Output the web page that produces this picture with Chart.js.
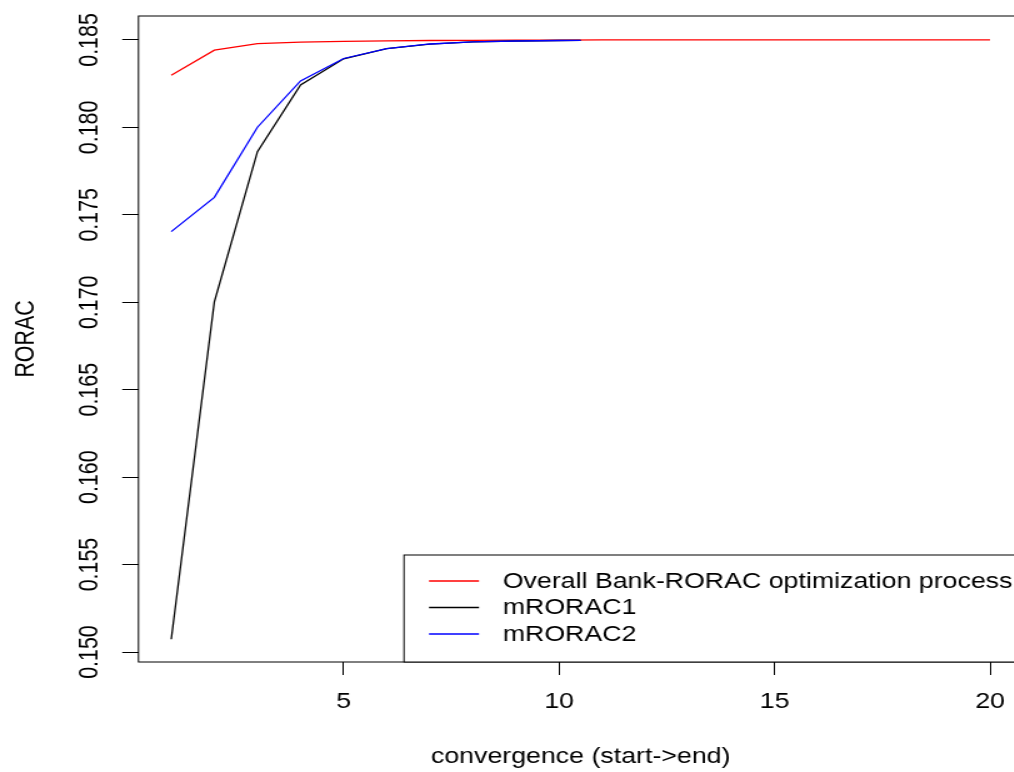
<!DOCTYPE html>
<html>
<head>
<meta charset="utf-8">
<script src="https://cdn.jsdelivr.net/npm/chart.js@4.4.0/dist/chart.umd.min.js"></script>
<style>
    html, body { margin: 0; padding: 0; overflow: hidden; background: #fff; width: 1014px; height: 772px; }
    /* the original R picture is stretched sideways, so the canvas is too */
    #wrap { position: absolute; left: 0; top: 0; width: 832px; height: 772px; transform: scaleX(1.25); transform-origin: 0 0; }
</style>
</head>
<body>
<div id="wrap"><canvas id="RoracChart"></canvas></div>
<script>
const steps = [1, 2, 3, 4, 5, 6, 7, 8, 9, 10, 11, 12, 13, 14, 15, 16, 17, 18, 19, 20];
const mSteps = [1, 2, 3, 4, 5, 6, 7, 8, 9, 10, 10.5];

const overallRorac = [0.18298, 0.18442, 0.18479, 0.18488, 0.18492, 0.18495, 0.18497, 0.18498, 0.18499, 0.18499,
    0.18500, 0.18500, 0.18500, 0.18500, 0.18500, 0.18500, 0.18500, 0.18500, 0.18500, 0.18500];
const mRorac1 = [0.15073, 0.17003, 0.17861, 0.18243, 0.18392, 0.18450, 0.18476, 0.18489, 0.18494, 0.18497, 0.18498];
const mRorac2 = [0.17404, 0.17600, 0.18001, 0.18266, 0.18394, 0.18451, 0.18477, 0.18489, 0.18494, 0.18497, 0.18498];

const seriesNames = ["Overall Bank-RORAC optimization process", "mRORAC1", "mRORAC2"];
const seriesColors = ["#ff0000", "#000000", "#0000ff"];

const fontFamily = '"Liberation Sans", Arial, sans-serif';
const txtFont = { family: fontFamily, size: 21.4 };

const toPoints = (xs, ys) => xs.map((x, i) => ({ x: x, y: ys[i] }));

// frame, rotated y labels and the boxed legend, R style
const rPlotDecor = {
    id: 'rPlotDecor',
    afterDraw(chart) {
        const { ctx, chartArea: a, scales: { y } } = chart;
        ctx.save();
        ctx.strokeStyle = '#000';
        ctx.lineWidth = 1;
        ctx.strokeRect(a.left, a.top, a.right - a.left, a.bottom - a.top);

        ctx.fillStyle = '#000';
        ctx.font = txtFont.size + 'px ' + fontFamily;
        ctx.textAlign = 'center';
        ctx.textBaseline = 'middle';
        y.ticks.forEach(t => {
            ctx.save();
            ctx.translate(72, y.getPixelForValue(t.value));
            ctx.rotate(-Math.PI / 2);
            ctx.fillText(t.value.toFixed(3), 0, 0);
            ctx.restore();
        });

        // legend
        const boxLeft = 323.2;
        const boxTop = 555;
        ctx.fillStyle = '#fff';
        ctx.fillRect(boxLeft, boxTop, a.right - boxLeft, a.bottom - boxTop);
        ctx.strokeRect(boxLeft, boxTop, a.right - boxLeft, a.bottom - boxTop);
        ctx.textAlign = 'left';
        chart.data.datasets.forEach((ds, i) => {
            const rowY = boxTop + 26 + i * 26.5;
            ctx.strokeStyle = ds.borderColor;
            ctx.lineWidth = 1.3;
            ctx.beginPath();
            ctx.moveTo(343.2, rowY);
            ctx.lineTo(383.2, rowY);
            ctx.stroke();
            ctx.fillStyle = '#000';
            ctx.fillText(ds.label, 402.2, rowY + 1);
        });
        ctx.restore();
    }
};

const ctx = document.getElementById("RoracChart").getContext("2d");

const roracChart = new Chart(ctx, {
    type: 'line',
    data: {
        datasets: [
            {
                label: seriesNames[0],
                data: toPoints(steps, overallRorac),
                borderColor: seriesColors[0],
                borderWidth: 1.3,
                pointRadius: 0,
                tension: 0,
                order: 3
            },
            {
                label: seriesNames[1],
                data: toPoints(mSteps, mRorac1),
                borderColor: seriesColors[1],
                borderWidth: 1.3,
                pointRadius: 0,
                tension: 0,
                order: 2
            },
            {
                label: seriesNames[2],
                data: toPoints(mSteps, mRorac2),
                borderColor: seriesColors[2],
                borderWidth: 1.3,
                pointRadius: 0,
                tension: 0,
                order: 1
            }
        ]
    },
    options: {
        responsive: true,
        maintainAspectRatio: false,
        animation: false,
        layout: { padding: { left: 0, top: 16, right: 13.76, bottom: 0 } },
        plugins: {
            legend: { display: false },
            tooltip: { enabled: false }
        },
        scales: {
            x: {
                type: 'linear',
                min: 0.24,
                max: 20.76,
                ticks: { stepSize: 5, includeBounds: false, autoSkip: false, maxRotation: 0, color: '#000', font: txtFont, padding: 14 },
                grid: { drawOnChartArea: false, drawTicks: true, tickLength: 13, color: '#000' },
                border: { display: false },
                title: { display: true, text: 'convergence (start->end)', color: '#000', font: txtFont, padding: { top: 0, bottom: 1.8 } },
                afterFit: s => { s.height = 110; }
            },
            y: {
                type: 'linear',
                min: 0.14943,
                max: 0.18637,
                ticks: { stepSize: 0.005, includeBounds: false, autoSkip: false, display: false },
                grid: { drawOnChartArea: false, drawTicks: true, tickLength: 13, color: '#000' },
                border: { display: false },
                title: { display: true, text: 'RORAC', color: '#000', font: txtFont, padding: { top: 8, bottom: 0 } },
                afterFit: s => { s.width = 110.8; }
            }
        }
    },
    plugins: [rPlotDecor]
});
</script>
</body>
</html>
